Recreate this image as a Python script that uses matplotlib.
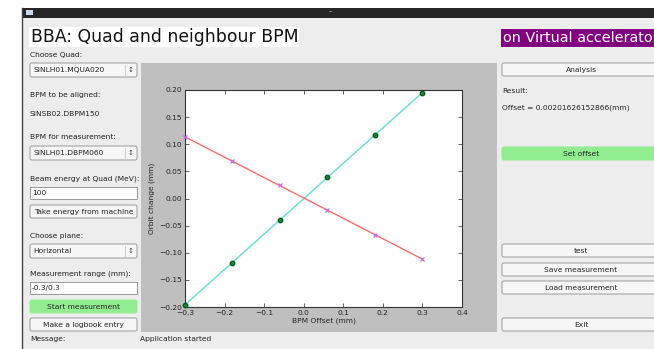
import numpy as np
import matplotlib
matplotlib.use("Agg")
import matplotlib.pyplot as plt
from matplotlib.patches import Rectangle, FancyBboxPatch

W, H = 654, 349

# measurement data
bpm_offset = [-0.3, -0.18, -0.06, 0.06, 0.18, 0.3]
orbit_pos = [-0.196, -0.118, -0.039, 0.039, 0.117, 0.195]
orbit_neg = [0.113, 0.069, 0.024, -0.021, -0.067, -0.112]
x_ticks = [-0.3, -0.2, -0.1, 0.0, 0.1, 0.2, 0.3, 0.4]
y_ticks = [-0.20, -0.15, -0.10, -0.05, 0.00, 0.05, 0.10, 0.15, 0.20]

left_labels = [("Choose Quad:", 55), ("BPM to be aligned:", 95), ("SINSB02.DBPM150", 114),
               ("BPM for measurement:", 137), ("Beam energy at Quad (MeV):", 179),
               ("Choose plane:", 236), ("Measurement range (mm):", 274), ("Message:", 339)]
combos = [("SINLH01.MQUA020", 63), ("SINLH01.DBPM060", 146), ("Horizontal", 244)]
inputs = [("100", 187), ("-0.3/0.3", 282)]
left_buttons = [("Take energy from machine", 205, False), ("Start measurement", 300, True),
                ("Make a logbook entry", 318, False)]
right_buttons = [("Analysis", 63, False), ("Set offset", 147, True), ("test", 244, False),
                 ("Save measurement", 263, False), ("Load measurement", 281, False), ("Exit", 318, False)]

fig = plt.figure(figsize=(W / 100, H / 100), dpi=100)
fig.patch.set_facecolor("white")
bg = fig.add_axes([0, 0, 1, 1])
bg.set_xlim(0, W)
bg.set_ylim(H, 0)
bg.axis("off")

font = "DejaVu Sans"
# window
bg.add_patch(Rectangle((22, 8), W - 22, H - 8, facecolor="#ededed", edgecolor="none"))
bg.add_patch(Rectangle((22, 8), W - 22, 10, facecolor="#262626", edgecolor="none"))
bg.add_patch(Rectangle((26, 10), 7, 5, facecolor="#c8d8f0", edgecolor="none"))
bg.plot([22, 22], [8, H], color="#444444", lw=1)
bg.text(330, 12, "-", color="#bbbbbb", fontsize=6, ha="center", va="center")

# titles
bg.add_patch(Rectangle((29, 27), 270, 20, facecolor="white", edgecolor="none"))
bg.text(31, 37, "BBA: Quad and neighbour BPM", fontsize=12.4, family=font, va="center", color="#111111")
bg.add_patch(Rectangle((501, 29), W - 501, 18, facecolor="#800080", edgecolor="none"))
bg.text(503, 38, "on Virtual accelerator", fontsize=10.4, family=font, va="center", color="white",
        clip_on=True)

fs = 5.4
for txt, y in left_labels:
    bg.text(30, y, txt, fontsize=fs, family=font, va="center", color="#222222")


def button(x0, x1, y, txt, green):
    bg.add_patch(FancyBboxPatch((x0, y), x1 - x0, 13, boxstyle="round,pad=0,rounding_size=2",
                                facecolor="#90ee90" if green else "#f7f7f7",
                                edgecolor="#90ee90" if green else "#9a9a9a", lw=0.7))
    bg.text((x0 + x1) / 2, y + 6.7, txt, fontsize=fs, family=font, ha="center", va="center",
            color="#222222")


for txt, y in combos:
    bg.add_patch(FancyBboxPatch((30, y), 107, 14, boxstyle="round,pad=0,rounding_size=2",
                                facecolor="#f7f7f7", edgecolor="#9a9a9a", lw=0.7))
    bg.plot([125, 125], [y + 2, y + 12], color="#cccccc", lw=0.7)
    bg.text(131, y + 7, "\u2195", fontsize=5, family=font, ha="center", va="center", color="#444444")
    bg.text(33, y + 7, txt, fontsize=fs, family=font, va="center", color="#222222")
for txt, y in inputs:
    bg.add_patch(Rectangle((30, y), 107, 12, facecolor="white", edgecolor="#9a9a9a", lw=0.7))
    bg.text(32, y + 6, txt, fontsize=fs, family=font, va="center", color="#222222")
for txt, y, g in left_buttons:
    button(30, 137, y, txt, g)
for txt, y, g in right_buttons:
    button(502, 660, y, txt, g)

bg.text(502, 91, "Result:", fontsize=fs, family=font, va="center", color="#222222")
bg.text(502, 108, "Offset = 0.00201626152866(mm)", fontsize=fs, family=font, va="center", color="#222222")
bg.text(140, 339, "Application started", fontsize=fs, family=font, va="center", color="#222222")

# plot canvas
bg.add_patch(Rectangle((141, 63), 356, 269, facecolor="#bfbfbf", edgecolor="none"))

ax = fig.add_axes([185 / W, 1 - 307 / H, (462 - 185) / W, (307 - 90) / H])
ax.set_facecolor("white")
xs = np.array(bpm_offset)
xfit = np.array([xs.min(), xs.max()])
p1 = np.polyfit(xs, orbit_pos, 1)
p2 = np.polyfit(xs, orbit_neg, 1)
ax.plot(xfit, np.polyval(p1, xfit), color="#6fdede", lw=1.1, zorder=2)
ax.plot(xfit, np.polyval(p2, xfit), color="#ff6a6a", lw=1.0, zorder=2)
ax.plot(xs, orbit_pos, "o", color="#138a3a", mec="#0a5a20", ms=3.2, zorder=3, clip_on=False)
ax.plot(xs, orbit_neg, "x", color="#c070e8", ms=3, mew=0.9, zorder=3, clip_on=False)
ax.set_xlim(-0.3, 0.4)
ax.set_ylim(-0.2, 0.2)
ax.set_xticks(x_ticks)
ax.set_yticks(y_ticks)
ax.set_xticklabels([f"{v:.1f}".replace("-", "\u2212") for v in x_ticks])
ax.set_yticklabels([f"{v:.2f}".replace("-", "\u2212") for v in y_ticks])
ax.tick_params(direction="in", top=True, right=True, labelsize=5.4, length=3, width=0.5,
               colors="#222222", pad=2)
for s in ax.spines.values():
    s.set_linewidth(0.8)
    s.set_color("#333333")
ax.set_xlabel("BPM Offset (mm)", fontsize=5.4, labelpad=1, color="#222222")
ax.set_ylabel("Orbit change (mm)", fontsize=5.4, labelpad=3, color="#222222")

fig.savefig("out.png", dpi=100)
